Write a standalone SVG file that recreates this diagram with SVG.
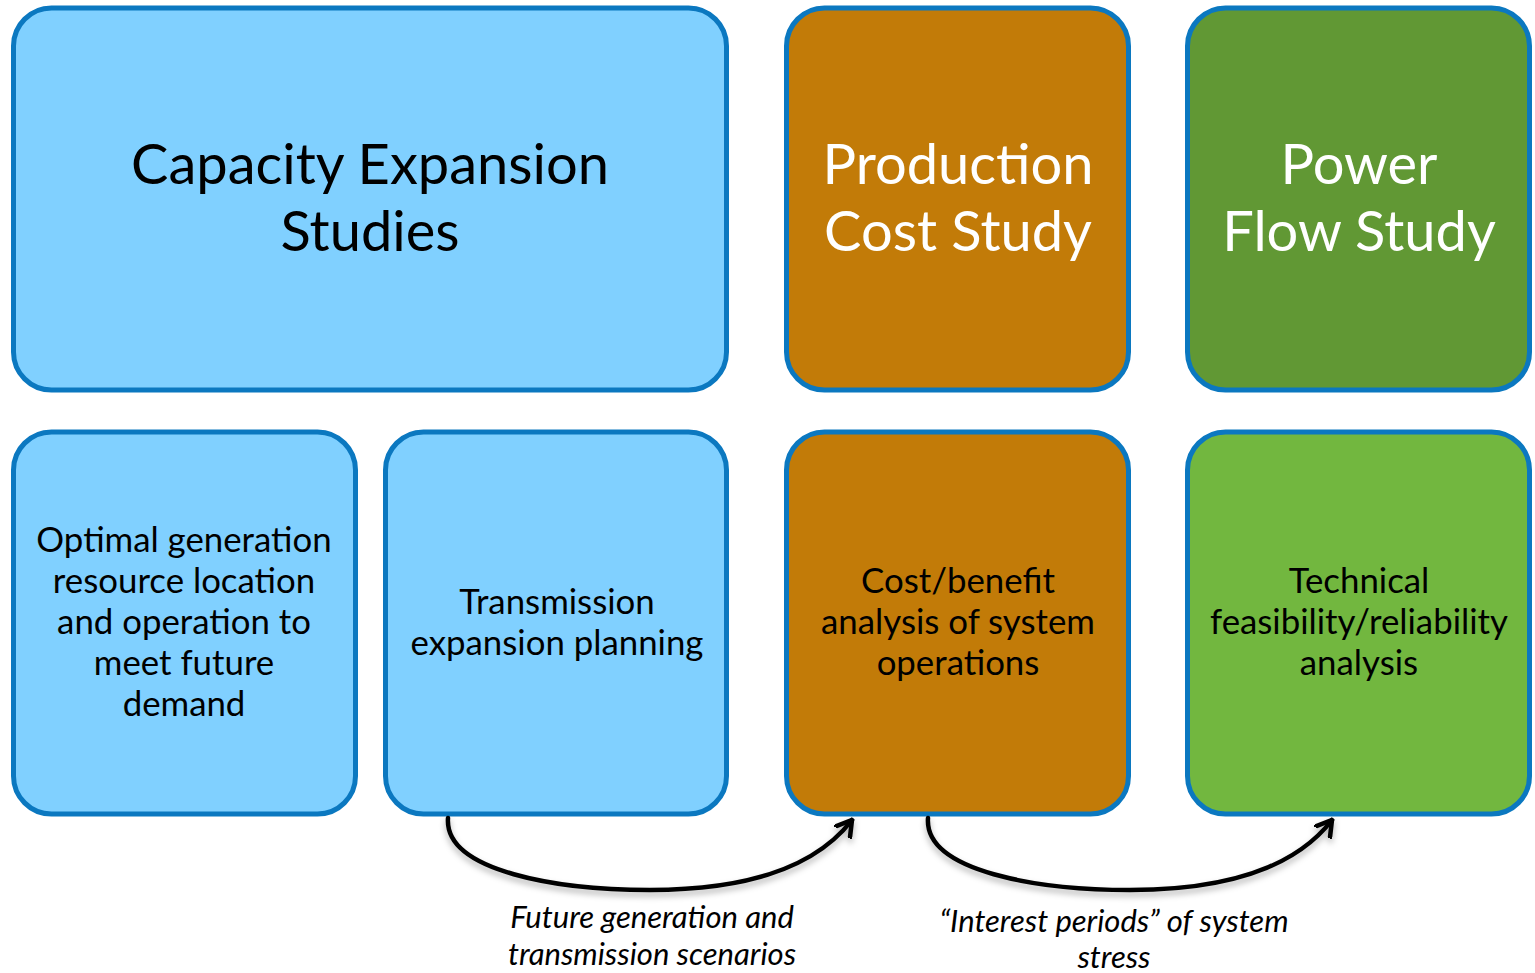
<svg xmlns="http://www.w3.org/2000/svg" width="1535" height="973" viewBox="0 0 1535 973">
  <style>
    .box { stroke: #0B78C0; stroke-width: 5; }
    .blue { fill: #80D0FF; }
    .orange { fill: #C27B08; }
    .dgreen { fill: #619834; }
    .lgreen { fill: #72B73F; }
    .title { font-family: Lato, "Open Sans", sans-serif; font-size: 56px; text-anchor: middle; }
    .body { font-family: Lato, "Open Sans", sans-serif; font-size: 34.8px; text-anchor: middle; fill: #000; }
    .note { font-family: Lato, "Open Sans", sans-serif; font-size: 31px; font-style: italic; text-anchor: middle; fill: #000; }
    .link { fill: none; stroke: #000; stroke-width: 4.5; stroke-linecap: round; }
  </style>
  <defs>
    <marker id="vhead" viewBox="0 0 18 22" refX="16" refY="11" markerWidth="18" markerHeight="22" markerUnits="userSpaceOnUse" orient="auto">
      <path d="M1,2 L16,11 L1,20" fill="none" stroke="#000" stroke-width="4.5" stroke-linecap="round" stroke-linejoin="miter"/>
    </marker>
    <filter id="soft" x="-10%" y="-20%" width="120%" height="160%">
      <feDropShadow dx="0" dy="4" stdDeviation="3" flood-color="#000" flood-opacity="0.3"/>
    </filter>
  </defs>

  <g id="capacity-expansion">
    <rect class="box blue" x="13.5" y="8" width="713" height="382" rx="38"/>
    <text class="title" fill="#000"><tspan x="370" y="184">Capacity Expansion</tspan><tspan x="370" y="251">Studies</tspan></text>
  </g>
  <g id="production-cost">
    <rect class="box orange" x="786.5" y="8" width="342" height="382" rx="38"/>
    <text class="title" fill="#fff"><tspan x="958" y="184">Production</tspan><tspan x="958" y="251">Cost Study</tspan></text>
  </g>
  <g id="power-flow">
    <rect class="box dgreen" x="1187.5" y="8" width="342" height="382" rx="38"/>
    <text class="title" fill="#fff"><tspan x="1359" y="184">Power</tspan><tspan x="1359" y="251">Flow Study</tspan></text>
  </g>

  <g id="generation-resource">
    <rect class="box blue" x="13.5" y="432" width="342" height="382" rx="38"/>
    <text class="body"><tspan x="184" y="552">Optimal generation</tspan><tspan x="184" y="593">resource location</tspan><tspan x="184" y="634">and operation to</tspan><tspan x="184" y="675">meet future</tspan><tspan x="184" y="716">demand</tspan></text>
  </g>
  <g id="transmission-planning">
    <rect class="box blue" x="385.5" y="432" width="341" height="382" rx="38"/>
    <text class="body"><tspan x="557" y="614">Transmission</tspan><tspan x="557" y="655">expansion planning</tspan></text>
  </g>
  <g id="cost-benefit">
    <rect class="box orange" x="786.5" y="432" width="342" height="382" rx="38"/>
    <text class="body"><tspan x="958" y="593">Cost/benefit</tspan><tspan x="958" y="634">analysis of system</tspan><tspan x="958" y="675">operations</tspan></text>
  </g>
  <g id="feasibility">
    <rect class="box lgreen" x="1187.5" y="432" width="342" height="382" rx="38"/>
    <text class="body"><tspan x="1359" y="593">Technical</tspan><tspan x="1359" y="634">feasibility/reliability</tspan><tspan x="1359" y="675">analysis</tspan></text>
  </g>

  <g id="connectors" filter="url(#soft)">
    <path class="link" d="M448,818 C444,872 560,890 650,890 C745,890 815,868 852,820" marker-end="url(#vhead)"/>
    <path class="link" d="M928,818 C924,872 1040,890 1130,890 C1225,890 1295,868 1332,820" marker-end="url(#vhead)"/>
  </g>
  <g id="connector-labels">
    <text class="note"><tspan x="652" y="928">Future generation and</tspan><tspan x="652" y="965">transmission scenarios</tspan></text>
    <text class="note"><tspan x="1114" y="932">“Interest periods” of system</tspan><tspan x="1114" y="968">stress</tspan></text>
  </g>
</svg>
